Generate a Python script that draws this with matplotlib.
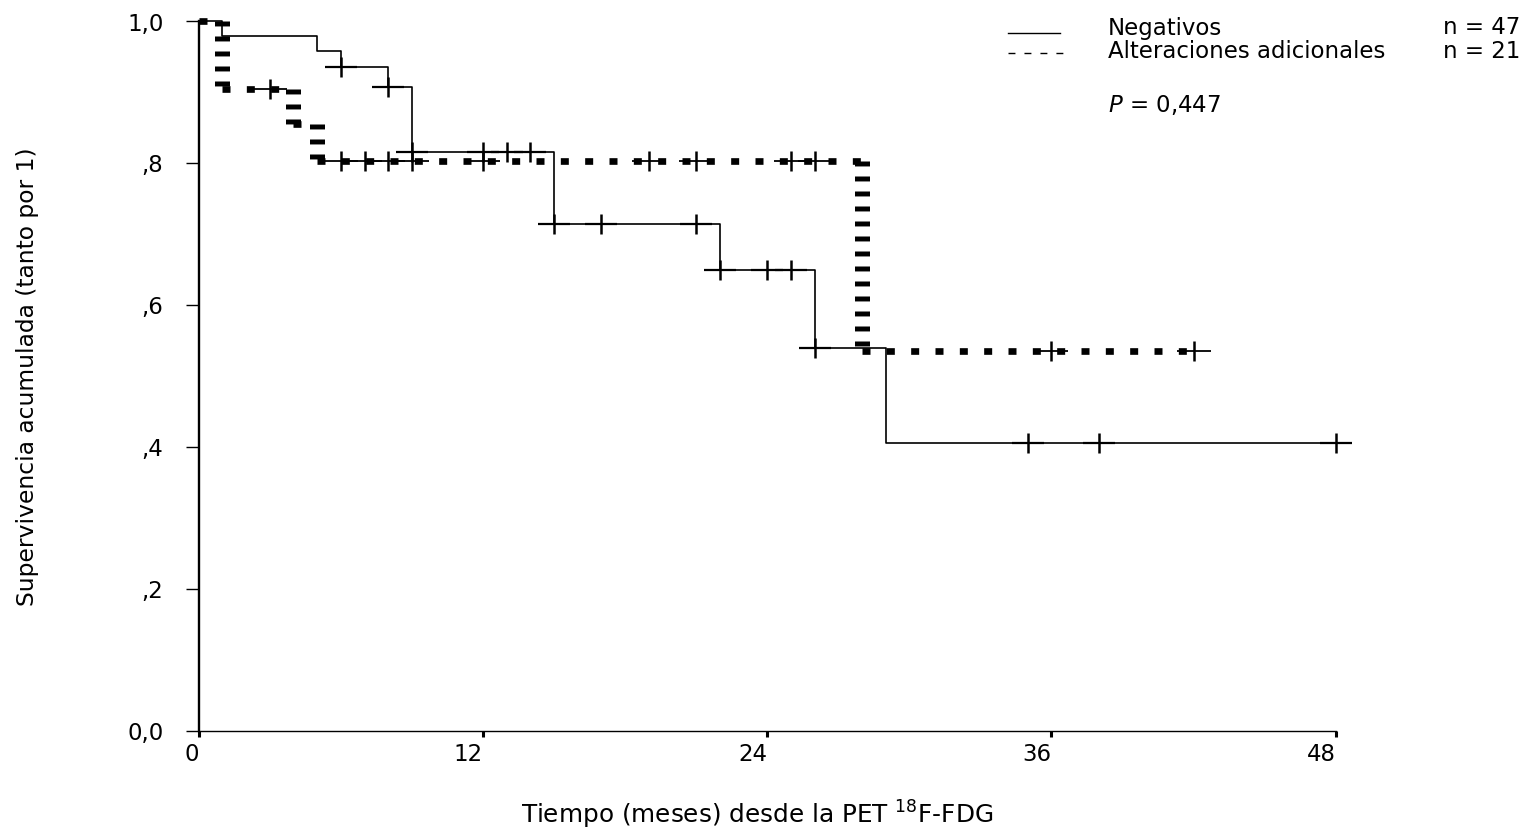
import numpy as np
import matplotlib
matplotlib.use('Agg')
from matplotlib import pyplot as plt
from matplotlib.lines import Line2D

# Negativos, n = 47 (step times and survival)
neg_t = [0, 1, 5, 6, 8, 9, 15, 22, 26, 29, 48]
neg_s = [1.0, 0.980, 0.959, 0.936, 0.908, 0.816, 0.715, 0.650, 0.540, 0.406, 0.406]
neg_cens = [6, 8, 9, 12, 13, 14, 15, 17, 21, 22, 24, 25, 26, 35, 38, 48]

# Alteraciones adicionales, n = 21
alt_t = [0, 1, 4, 5, 28, 42]
alt_s = [1.0, 0.905, 0.855, 0.804, 0.536, 0.536]
alt_cens = [3, 6, 7, 8, 9, 12, 19, 21, 25, 26, 36, 42]

x_ticks = [0, 12, 24, 36, 48]
y_ticks = [0.0, 0.2, 0.4, 0.6, 0.8, 1.0]
y_labels = ['0,0', ',2', ',4', ',6', ',8', '1,0']

plt.rcParams['font.family'] = ['DejaVu Sans']
plt.rcParams['font.size'] = 16.5
plt.rcParams['mathtext.fontset'] = 'dejavusans'

W, H = 1524, 838


def surv_at(t, s, when):
    idx = np.searchsorted(t, when, side='right') - 1
    return np.asarray(s)[idx]


def split_steps(t, s):
    # horizontal and vertical parts of a post-step curve
    hx, hy, vx, vy = [], [], [], []
    for i in range(len(t) - 1):
        hx += [t[i], t[i + 1], np.nan]
        hy += [s[i], s[i], np.nan]
        if s[i + 1] != s[i]:
            vx += [t[i + 1], t[i + 1], np.nan]
            vy += [s[i], s[i + 1], np.nan]
    return hx, hy, vx, vy


fig = plt.figure(figsize=(W / 100, H / 100), dpi=100)
ax = fig.add_axes([198.7 / W, 1 - 730.8 / H, 1137 / W, 709.3 / H])

# solid curve
ax.step(neg_t, neg_s, where='post', color='black', lw=1.2, clip_on=False)
cy = surv_at(neg_t, neg_s, neg_cens)
ax.plot(neg_cens, cy, ls='none', marker='|', ms=14, mew=1.8, color='black', clip_on=False)
ax.plot(neg_cens, cy, ls='none', marker='_', ms=23, mew=1.6, color='black', clip_on=False)

# thick dotted curve
hx, hy, vx, vy = split_steps(alt_t, alt_s)
ax.plot(hx, hy, color='black', lw=4.8, dashes=(1.2, 2.45), clip_on=False)
ax.plot(vx, vy, color='black', lw=10.8, dashes=(0.33, 0.67), clip_on=False)
cy = surv_at(alt_t, alt_s, alt_cens)
ax.plot(alt_cens, cy, ls='none', marker='|', ms=15, mew=1.8, color='black', clip_on=False)
ax.plot(alt_cens, cy, ls='none', marker='_', ms=24, mew=1.3, color='black', clip_on=False)

ax.set_xlim(0, 48)
ax.set_ylim(0, 1)
ax.spines['top'].set_visible(False)
ax.spines['right'].set_visible(False)
ax.spines['left'].set_linewidth(1.7)
ax.spines['bottom'].set_linewidth(1.0)

ax.set_xticks(x_ticks)
ax.set_xticklabels([str(v) for v in x_ticks], ha='right')
ax.set_yticks(y_ticks)
ax.set_yticklabels(y_labels)
ax.tick_params(axis='x', direction='out', length=4, width=2.2, pad=5)
ax.tick_params(axis='y', direction='out', length=9.4, width=1.0, pad=16)

fig.text(757 / W, 1 - 815 / H, r'Tiempo (meses) desde la PET $^{18}$F-FDG', ha='center', va='center',
         fontsize=17.8)
fig.text(28 / W, 1 - 376.5 / H, 'Supervivencia acumulada (tanto por 1)', rotation=90,
         ha='center', va='center', fontsize=16.8)

# legend block
fig.add_artist(Line2D([1008 / W, 1060 / W], [1 - 33 / H] * 2, color='black', lw=1.0))
fig.add_artist(Line2D([1008 / W, 1066 / W], [1 - 53 / H] * 2, color='black', lw=1.0,
                      dashes=(5, 6.5)))
fig.text(1108 / W, 1 - 28 / H, 'Negativos', va='center')
fig.text(1443 / W, 1 - 28 / H, 'n = 47', va='center')
fig.text(1108 / W, 1 - 51 / H, 'Alteraciones adicionales', va='center')
fig.text(1443 / W, 1 - 51 / H, 'n = 21', va='center')
fig.text(1108 / W, 1 - 105 / H, r'$P$ = 0,447', va='center')

fig.savefig('out.png', dpi=100)
